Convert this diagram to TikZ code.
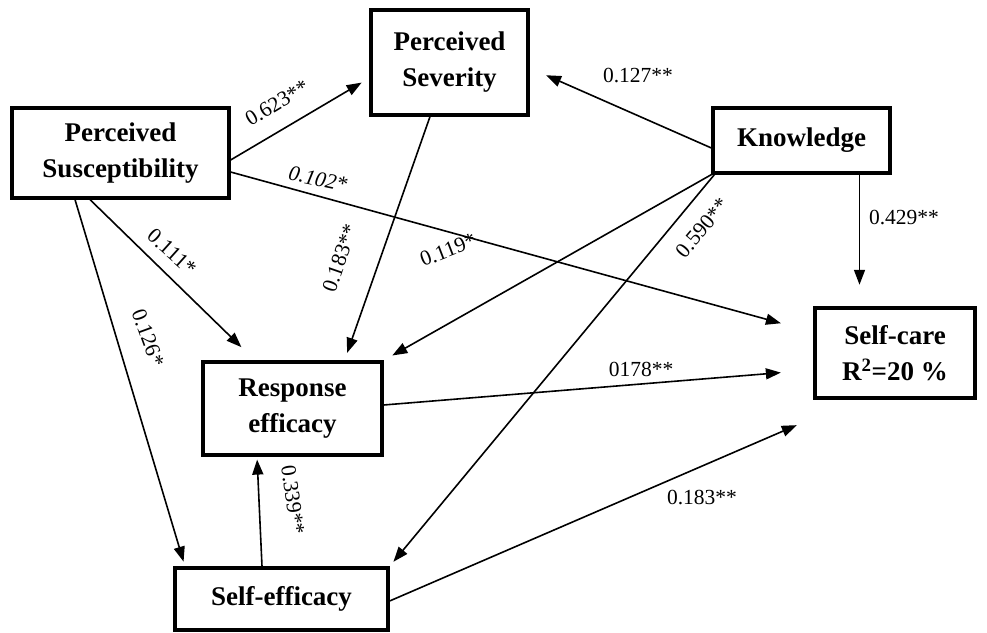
\documentclass[tikz,border=0pt]{standalone}
\usepackage{fontspec}
\setmainfont{Liberation Serif}
\usetikzlibrary{arrows.meta}
\tikzset{
  box/.style={draw, line width=3.2pt, rectangle, align=center, inner sep=0pt,
    font=\fontsize{27}{36}\selectfont\bfseries},
  arr/.style={line width=1.6pt, -{Triangle[length=15pt,width=11pt]}},
  lab/.style={font=\fontsize{21.5}{24}\selectfont, inner sep=1pt},
}
\begin{document}
\begin{tikzpicture}[x=1pt,y=-1pt]
\useasboundingbox (0,0) rectangle (987,632);
% nodes
\node[box, minimum width=157pt, minimum height=105pt] (sev) at (449.5,62.5) {Perceived\\Severity};
\node[box, minimum width=217pt, minimum height=90pt] (sus) at (120.5,153) {Perceived\\Susceptibility};
\node[box, minimum width=177pt, minimum height=65pt] (know) at (801.5,140.5) {Knowledge};
\node[box, line width=4.5pt, minimum width=160pt, minimum height=90pt] (care) at (895,353) {Self-care\\R\textsuperscript{2}=20 \%};
\node[box, minimum width=179pt, minimum height=93pt] (resp) at (292.5,408.5) {Response\\efficacy};
\node[box, minimum width=213pt, minimum height=62pt] (seff) at (281.5,599) {Self-efficacy};
% connectors
\draw[arr, shorten >=9pt] ([yshift=-7pt]sus.east) -- ([yshift=-15.5pt]sev.west);
\draw[arr, shorten >=33pt] ([yshift=-19pt]sus.east) -- ([yshift=21pt]care.west);
\draw[arr, shorten >=18pt] ([yshift=-7.5pt]know.west) -- ([yshift=-5.5pt]sev.east);
\draw[arr, shorten >=21pt] ([xshift=58pt]know.south) -- ([xshift=-35.5pt]care.north);
\draw[arr, shorten >=10pt] (know.south west) -- (resp.north east);
\draw[arr, shorten >=6pt] ([xshift=3pt]know.south west) -- (seff.north east);
\draw[arr, shorten >=8pt] ([xshift=-19.5pt]sev.south) -- ([xshift=52pt]resp.north);
\draw[arr, shorten >=19pt] ([xshift=-30.5pt]sus.south) -- ([xshift=-37.5pt]resp.north);
\draw[arr, shorten >=5pt] ([xshift=-45.5pt]sus.south) -- ([xshift=-96.5pt]seff.north);
\draw[arr, shorten >=32pt] ([yshift=3.5pt]resp.east) -- ([yshift=-17pt]care.west);
\draw[arr, shorten >=17.4pt] ([yshift=-2pt]seff.east) -- ([yshift=-18pt]care.south west);
\draw[arr, shorten >=3pt] ([xshift=-19.5pt]seff.north) -- ([xshift=-35.5pt]resp.south);
% labels
\node[lab, rotate=31] (l1) at (277,103) {0.623**};
\node[lab, rotate=-12] (l2) at (318,179) {\itshape 0.102*};
\node[lab] (l3) at (638,76) {0.127**};
\node[lab] (l4) at (904,217) {0.429**};
\node[lab, rotate=50] (l5) at (702,228) {0.590**};
\node[lab, rotate=21] (l6) at (448,250) {0.119*};
\node[lab, rotate=71] (l7) at (340,258) {0.183**};
\node[lab, rotate=-42] (l8) at (172,252) {0.111*};
\node[lab, rotate=-70] (l9) at (148,338) {0.126*};
\node[lab, rotate=-82] (l10) at (293,500) {0.339**};
\node[lab] (l11) at (641,369) {0178**};
\node[lab] (l12) at (702,497) {0.183**};
\end{tikzpicture}
\end{document}
